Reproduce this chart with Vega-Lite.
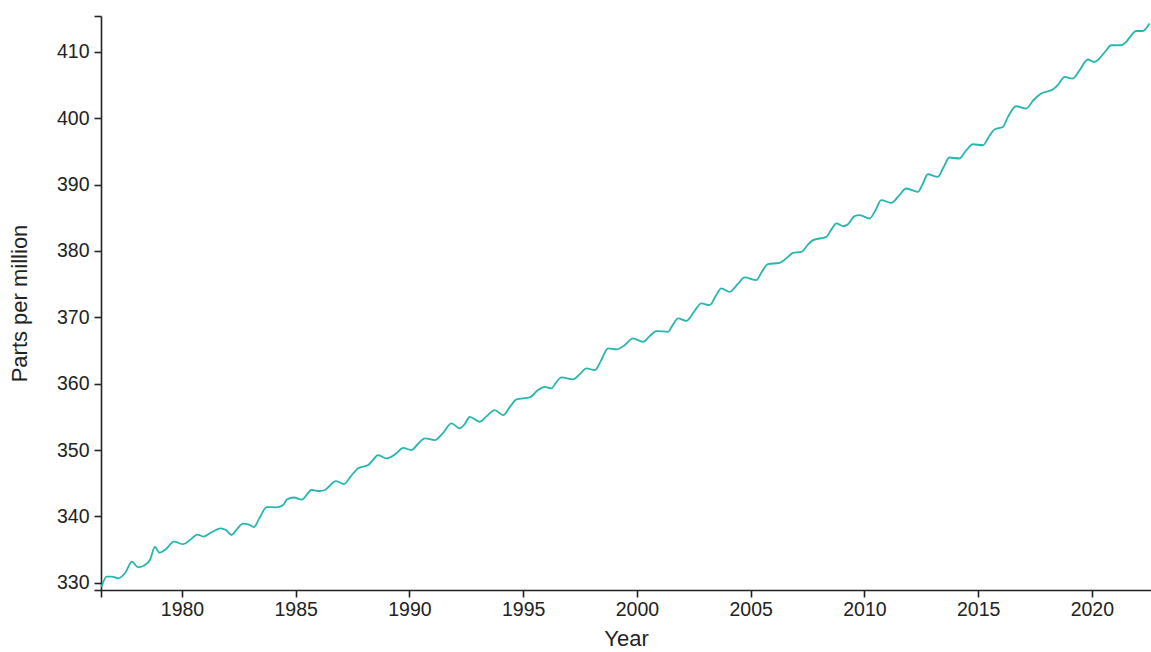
{
  "$schema": "https://vega.github.io/schema/vega-lite/v6.json",
  "autosize": {"type": "none"},
  "padding": {"left": 101, "top": 16, "right": 0, "bottom": 62},
  "width": 1050,
  "height": 574,
  "background": "white",
  "config": {
    "view": {"stroke": null},
    "font": "Liberation Sans",
    "axis": {"grid": false, "domainColor": "#222", "tickColor": "#222", "domainWidth": 1.6, "tickWidth": 1.6, "labelColor": "#222", "titleColor": "#222", "labelFont": "Liberation Sans", "titleFont": "Liberation Sans", "labelFontSize": 19.5, "titleFontSize": 22, "titleFontWeight": "normal", "tickSize": 7}
  },
  "data": {"values": [
    {"year": 1976.46, "ppm": 329.35},
    {"year": 1976.69, "ppm": 330.93},
    {"year": 1976.92, "ppm": 330.93},
    {"year": 1977.19, "ppm": 330.66},
    {"year": 1977.50, "ppm": 331.46},
    {"year": 1977.80, "ppm": 333.16},
    {"year": 1978.07, "ppm": 332.32},
    {"year": 1978.37, "ppm": 332.67},
    {"year": 1978.59, "ppm": 333.42},
    {"year": 1978.81, "ppm": 335.38},
    {"year": 1979.01, "ppm": 334.52},
    {"year": 1979.30, "ppm": 335.08},
    {"year": 1979.65, "ppm": 336.18},
    {"year": 1980.06, "ppm": 335.80},
    {"year": 1980.35, "ppm": 336.43},
    {"year": 1980.68, "ppm": 337.26},
    {"year": 1980.94, "ppm": 336.96},
    {"year": 1981.32, "ppm": 337.64},
    {"year": 1981.71, "ppm": 338.20},
    {"year": 1981.93, "ppm": 337.94},
    {"year": 1982.18, "ppm": 337.19},
    {"year": 1982.42, "ppm": 338.09},
    {"year": 1982.68, "ppm": 338.89},
    {"year": 1982.94, "ppm": 338.77},
    {"year": 1983.16, "ppm": 338.39},
    {"year": 1983.43, "ppm": 339.90},
    {"year": 1983.72, "ppm": 341.40},
    {"year": 1984.16, "ppm": 341.36},
    {"year": 1984.45, "ppm": 341.71},
    {"year": 1984.61, "ppm": 342.53},
    {"year": 1984.92, "ppm": 342.84},
    {"year": 1985.27, "ppm": 342.53},
    {"year": 1985.70, "ppm": 343.97},
    {"year": 1986.06, "ppm": 343.82},
    {"year": 1986.28, "ppm": 343.97},
    {"year": 1986.77, "ppm": 345.32},
    {"year": 1987.12, "ppm": 344.87},
    {"year": 1987.43, "ppm": 346.08},
    {"year": 1987.75, "ppm": 347.24},
    {"year": 1988.19, "ppm": 347.73},
    {"year": 1988.39, "ppm": 348.49},
    {"year": 1988.62, "ppm": 349.24},
    {"year": 1988.99, "ppm": 348.74},
    {"year": 1989.43, "ppm": 349.50},
    {"year": 1989.72, "ppm": 350.32},
    {"year": 1990.09, "ppm": 349.99},
    {"year": 1990.37, "ppm": 350.90},
    {"year": 1990.68, "ppm": 351.76},
    {"year": 1991.12, "ppm": 351.50},
    {"year": 1991.47, "ppm": 352.55},
    {"year": 1991.85, "ppm": 354.01},
    {"year": 1992.21, "ppm": 353.26},
    {"year": 1992.43, "ppm": 353.91},
    {"year": 1992.65, "ppm": 355.01},
    {"year": 1993.09, "ppm": 354.26},
    {"year": 1993.40, "ppm": 355.11},
    {"year": 1993.75, "ppm": 356.02},
    {"year": 1994.12, "ppm": 355.27},
    {"year": 1994.41, "ppm": 356.47},
    {"year": 1994.71, "ppm": 357.63},
    {"year": 1995.29, "ppm": 357.93},
    {"year": 1995.65, "ppm": 359.03},
    {"year": 1995.95, "ppm": 359.53},
    {"year": 1996.24, "ppm": 359.29},
    {"year": 1996.43, "ppm": 360.09},
    {"year": 1996.68, "ppm": 360.94},
    {"year": 1997.19, "ppm": 360.64},
    {"year": 1997.49, "ppm": 361.44},
    {"year": 1997.78, "ppm": 362.30},
    {"year": 1998.15, "ppm": 362.05},
    {"year": 1998.41, "ppm": 363.40},
    {"year": 1998.73, "ppm": 365.31},
    {"year": 1999.10, "ppm": 365.16},
    {"year": 1999.46, "ppm": 365.81},
    {"year": 1999.83, "ppm": 366.82},
    {"year": 2000.27, "ppm": 366.31},
    {"year": 2000.56, "ppm": 367.17},
    {"year": 2000.86, "ppm": 367.92},
    {"year": 2001.37, "ppm": 367.82},
    {"year": 2001.57, "ppm": 368.83},
    {"year": 2001.81, "ppm": 369.83},
    {"year": 2002.17, "ppm": 369.47},
    {"year": 2002.50, "ppm": 370.78},
    {"year": 2002.83, "ppm": 372.09},
    {"year": 2003.20, "ppm": 371.84},
    {"year": 2003.46, "ppm": 373.19},
    {"year": 2003.71, "ppm": 374.35},
    {"year": 2004.08, "ppm": 373.84},
    {"year": 2004.43, "ppm": 375.00},
    {"year": 2004.74, "ppm": 376.01},
    {"year": 2005.25, "ppm": 375.60},
    {"year": 2005.48, "ppm": 376.81},
    {"year": 2005.76, "ppm": 378.02},
    {"year": 2006.27, "ppm": 378.21},
    {"year": 2006.64, "ppm": 379.11},
    {"year": 2006.86, "ppm": 379.72},
    {"year": 2007.23, "ppm": 379.87},
    {"year": 2007.50, "ppm": 380.88},
    {"year": 2007.74, "ppm": 381.63},
    {"year": 2008.33, "ppm": 382.13},
    {"year": 2008.56, "ppm": 383.29},
    {"year": 2008.77, "ppm": 384.15},
    {"year": 2009.06, "ppm": 383.74},
    {"year": 2009.28, "ppm": 384.04},
    {"year": 2009.57, "ppm": 385.25},
    {"year": 2009.79, "ppm": 385.40},
    {"year": 2010.23, "ppm": 384.90},
    {"year": 2010.49, "ppm": 386.15},
    {"year": 2010.74, "ppm": 387.66},
    {"year": 2011.18, "ppm": 387.25},
    {"year": 2011.50, "ppm": 388.26},
    {"year": 2011.84, "ppm": 389.42},
    {"year": 2012.35, "ppm": 388.91},
    {"year": 2012.56, "ppm": 390.07},
    {"year": 2012.79, "ppm": 391.57},
    {"year": 2013.23, "ppm": 391.17},
    {"year": 2013.48, "ppm": 392.63},
    {"year": 2013.74, "ppm": 394.09},
    {"year": 2014.18, "ppm": 393.94},
    {"year": 2014.45, "ppm": 395.04},
    {"year": 2014.77, "ppm": 396.09},
    {"year": 2015.21, "ppm": 395.94},
    {"year": 2015.46, "ppm": 397.15},
    {"year": 2015.72, "ppm": 398.31},
    {"year": 2016.09, "ppm": 398.70},
    {"year": 2016.31, "ppm": 400.21},
    {"year": 2016.67, "ppm": 401.82},
    {"year": 2017.11, "ppm": 401.47},
    {"year": 2017.43, "ppm": 402.72},
    {"year": 2017.77, "ppm": 403.73},
    {"year": 2018.28, "ppm": 404.34},
    {"year": 2018.53, "ppm": 405.13},
    {"year": 2018.80, "ppm": 406.23},
    {"year": 2019.16, "ppm": 405.99},
    {"year": 2019.46, "ppm": 407.24},
    {"year": 2019.82, "ppm": 408.86},
    {"year": 2020.11, "ppm": 408.49},
    {"year": 2020.33, "ppm": 409.01},
    {"year": 2020.60, "ppm": 410.11},
    {"year": 2020.85, "ppm": 411.01},
    {"year": 2021.29, "ppm": 411.01},
    {"year": 2021.51, "ppm": 411.51},
    {"year": 2021.70, "ppm": 412.36},
    {"year": 2021.95, "ppm": 413.16},
    {"year": 2022.24, "ppm": 413.16},
    {"year": 2022.53, "ppm": 414.28}
  ]},
  "mark": {"type": "line", "interpolate": "monotone", "color": "#26b6b0", "strokeWidth": 1.8, "clip": true},
  "encoding": {
    "x": {
      "field": "year", "type": "quantitative",
      "scale": {"domain": [1976.44, 2022.6], "nice": false, "zero": false},
      "axis": {
        "title": "Year",
        "values": [1976.44, 1980, 1985, 1990, 1995, 2000, 2005, 2010, 2015, 2020],
        "labelExpr": "datum.value % 5 == 0 ? format(datum.value, 'd') : ''",
        "labelPadding": 3,
        "titlePadding": 10,
        "labelFlush": false,
        "labelOverlap": false
      }
    },
    "y": {
      "field": "ppm", "type": "quantitative",
      "scale": {"domain": [328.9, 415.42], "nice": false, "zero": false},
      "axis": {
        "title": "Parts per million",
        "values": [328.9, 330, 340, 350, 360, 370, 380, 390, 400, 410, 415.42],
        "labelExpr": "datum.value % 10 == 0 ? format(datum.value, 'd') : ''",
        "labelPadding": 5,
        "titlePadding": 25,
        "labelFlush": false,
        "labelOverlap": false
      }
    }
  }
}
